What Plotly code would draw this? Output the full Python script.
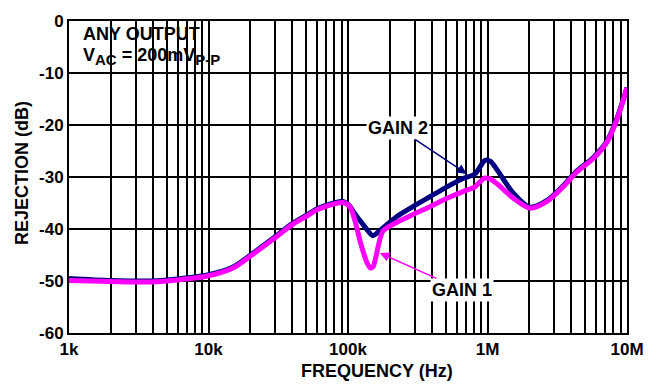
import math
import plotly.graph_objects as go

# frequency (Hz) / rejection (dB)
freq_g1 = [1e3, 2e3, 3.8e3, 6e3, 1e4, 1.5e4, 2e4, 3e4, 4e4, 5e4, 6e4, 7.4e4, 8.5e4, 9.2e4,
           1.03e5, 1.15e5, 1.22e5, 1.37e5, 1.45e5, 1.51e5, 1.58e5, 1.64e5, 1.78e5, 2.1e5,
           2.92e5, 3.87e5, 5.13e5, 6.67e5, 8.13e5, 8.7e5, 9.6e5, 1.05e6, 1.17e6, 1.52e6,
           2.02e6, 2.67e6, 3.48e6, 4.38e6, 5.71e6, 7.19e6, 8.48e6, 1e7]
rej_g1 = [-49.9, -50.1, -50.2, -49.8, -49.0, -47.5, -45.2, -41.7, -39.1, -37.6, -36.3, -35.4, -35.0, -34.9,
          -35.7, -39.5, -42.3, -46.5, -47.5, -47.3, -45.5, -43.5, -40.4, -39.1,
          -37.2, -35.7, -34.1, -32.8, -31.9, -31.1, -30.2, -30.4, -31.3, -34.0,
          -36.0, -34.7, -31.9, -29.0, -26.5, -23.3, -18.9, -12.9]

freq_g2 = [1e3, 2e3, 3.8e3, 6e3, 1e4, 1.5e4, 2e4, 3e4, 4e4, 5e4, 6e4, 7.4e4, 8.5e4, 9.2e4,
           1.03e5, 1.09e5, 1.28e5, 1.51e5, 1.64e5, 1.78e5, 2.24e5, 2.92e5, 3.87e5, 5.13e5,
           6.67e5, 8.13e5, 9.6e5, 1.05e6, 1.17e6, 1.52e6, 2.02e6, 2.67e6, 3.48e6, 4.38e6,
           5.71e6, 7.19e6, 8.48e6, 1e7]
rej_g2 = [-49.5, -49.9, -50.0, -49.6, -48.8, -47.3, -45.0, -41.5, -38.9, -37.4, -36.1, -35.2, -34.8, -34.7,
          -35.6, -36.6, -39.1, -41.3, -40.6, -39.8, -37.6, -35.7, -33.8, -31.9,
          -30.3, -29.4, -26.8, -27.0, -28.6, -33.0, -35.8, -34.5, -31.7, -28.8,
          -26.3, -23.1, -18.7, -12.8]

x_grid = [m * 10 ** d for d in range(3, 7) for m in range(1, 10)] + [1e7]
x_labels = {1e3: '1k', 1e4: '10k', 1e5: '100k', 1e6: '1M', 1e7: '10M'}
y_ticks = [0, -10, -20, -30, -40, -50, -60]

FONT = 'Liberation Sans, Arial'

fig = go.Figure()
fig.add_trace(go.Scatter(x=freq_g2, y=rej_g2, mode='lines', name='GAIN 2',
                         line=dict(color='#000080', width=5, shape='spline', smoothing=0.8)))
fig.add_trace(go.Scatter(x=freq_g1, y=rej_g1, mode='lines', name='GAIN 1',
                         line=dict(color='#ff00ff', width=5, shape='spline', smoothing=0.8)))

fig.update_xaxes(type='log', range=[3, 7], tickvals=x_grid, tickangle=0,
                 ticktext=['<b>%s</b>' % x_labels[v] if v in x_labels else '' for v in x_grid],
                 showgrid=True, gridcolor='black', gridwidth=2, ticks='',
                 showline=True, linecolor='black', linewidth=2, mirror=True,
                 tickfont=dict(family=FONT, size=17, color='black'))
fig.update_yaxes(range=[-60, 0], tickvals=y_ticks, ticktext=['<b>%d</b>' % v for v in y_ticks],
                 showgrid=True, gridcolor='black', gridwidth=2, ticks='', zeroline=False,
                 showline=True, linecolor='black', linewidth=2, mirror=True,
                 tickfont=dict(family=FONT, size=17, color='black'))

# white box behind the condition text
fig.add_shape(type='rect', xref='paper', yref='paper', x0=0.004, x1=0.321, y0=0.839, y1=0.995,
              fillcolor='white', line_width=0, layer='between')

txt = dict(family=FONT, size=18, color='black')
sub = '<sub><span style="font-size:15px">%s</span></sub>'
fig.add_annotation(xref='paper', yref='paper', x=0.021, y=0.958, xanchor='left', yanchor='middle',
                   text='<b>ANY OUTPUT</b>', showarrow=False, font=txt)
fig.add_annotation(xref='paper', yref='paper', x=0.021, y=0.885, xanchor='left', yanchor='middle',
                   text='<b>V' + sub % 'AC' + ' = 200mV' + sub % 'P-P' + '</b>', showarrow=False, font=txt)

fig.add_annotation(x=math.log10(7.1e5), y=-29.4, text='<b>GAIN 2</b>', font=txt, bgcolor='white',
                   showarrow=True, arrowhead=2, arrowsize=1.3, arrowwidth=1.5, arrowcolor='#000080',
                   ax=-69, ay=-46)
fig.add_annotation(x=math.log10(1.69e5), y=-44.6, text='<b>GAIN 1</b>', font=txt, bgcolor='white',
                   showarrow=True, arrowhead=2, arrowsize=1.3, arrowwidth=1.5, arrowcolor='#ff00ff',
                   ax=82, ay=37)

fig.add_annotation(xref='paper', yref='paper', x=0.552, y=-0.123, text='<b>FREQUENCY (Hz)</b>',
                   showarrow=False, font=txt, yanchor='middle')
fig.add_annotation(xref='paper', yref='paper', x=-0.084, y=0.513, text='<b>REJECTION (dB)</b>',
                   textangle=-90, showarrow=False, font=txt, xanchor='center')

fig.update_layout(width=660, height=385, showlegend=False,
                  margin=dict(l=69, r=33, t=17, b=52),
                  plot_bgcolor='white', paper_bgcolor='white')
fig.write_html('out.html', config={'displayModeBar': False},
               post_script="document.body.style.margin='0';")
